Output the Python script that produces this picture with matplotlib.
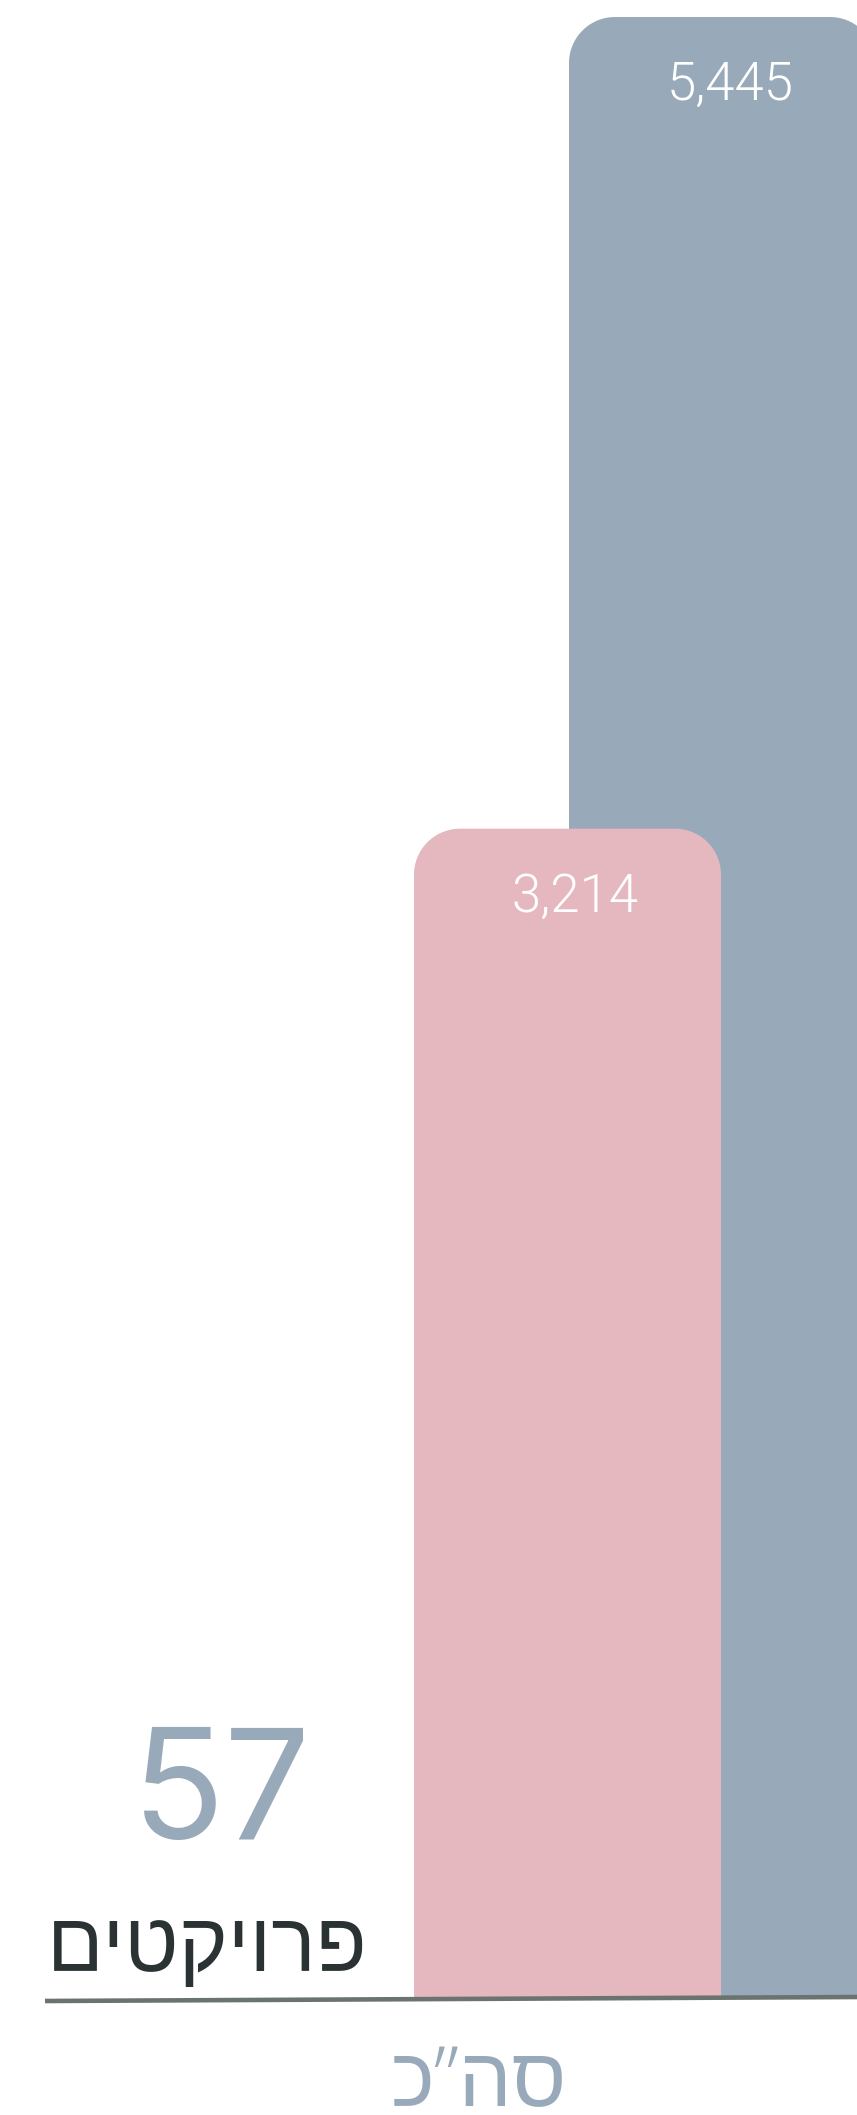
import matplotlib
matplotlib.use("Agg")
import numpy as np
import matplotlib.pyplot as plt
from matplotlib.patches import PathPatch
from matplotlib.path import Path
from matplotlib.lines import Line2D

# data
values = [3214, 5445]              # front (pink) bar, back (blue) bar
value_labels = ["3,214", "5,445"]
bar_colors = ["#e5b8bf", "#98a9b9"]
projects_count = "57"
projects_label = "פרויקטים"
total_label = 'סה"כ'

W, H = 857, 2115
BLUE = "#98a9b9"
DARK = "#2a3233"
LINE = "#6b7371"
HEB_FONT = ["Open Sans", "Liberation Sans", "DejaVu Sans"]


def heb(s):
    """matplotlib has no bidi, flip hebrew so it reads right to left"""
    return s[::-1].replace('"', "\u201d")


def fx(px):
    return px / W


def fy(py):
    return 1 - py / H


def top_rounded_bar(x, w, h, rx, ry, bottom):
    """bar path with round top corners (elliptic in data units = circular on screen)"""
    t = np.linspace(0, np.pi / 2, 20)
    left, right = x - w / 2, x + w / 2
    pts = [(left, bottom), (left, h - ry)]
    # top-left corner
    pts += list(zip(left + rx - rx * np.cos(t), h - ry + ry * np.sin(t)))
    # top-right corner
    pts += list(zip(right - rx + rx * np.sin(t), h - ry + ry * np.cos(t)))
    pts += [(right, bottom), (left, bottom)]
    return Path(pts, closed=True)


fig = plt.figure(figsize=(W / 100, H / 100), dpi=100)
fig.patch.set_facecolor("white")

# axes: bottom at the base line, top at the tallest bar
base_px, top_px = 1998, 17
ax = fig.add_axes([0, fy(base_px), 1, (base_px - top_px) / H])
ax.set_ylim(0, max(values))
unit_px = 155.0       # distance between the two bar centres
x0_px = 567.5         # centre of the first bar
ax.set_xlim(-x0_px / unit_px, (W - x0_px) / unit_px)
ax.axis("off")

bar_w = 307 / unit_px
r_px = 46
x_per_px = 1 / unit_px
y_per_px = max(values) / (base_px - top_px)

# draw back bar first so the front one covers it
for i in [1, 0]:
    v = values[i]
    path = top_rounded_bar(i, bar_w, v, r_px * x_per_px, r_px * y_per_px, 0)
    ax.add_patch(PathPatch(path, fc=bar_colors[i], ec="none"))
    ax.annotate(value_labels[i], (i, v), xytext=(8, -68), textcoords="offset pixels",
                ha="center", va="center", color="white", fontsize=38,
                family=["Roboto", "DejaVu Sans"], fontweight=300)

# base line (slightly tilted as in the original)
fig.add_artist(Line2D([fx(45), fx(857)], [fy(2001), fy(1997)], color=LINE,
                      lw=3.3, solid_capstyle="butt"))

fig.text(fx(221), fy(1839), projects_count, ha="center", va="baseline",
         color=BLUE, fontsize=110, family=["Inter", "DejaVu Sans"])
fig.text(fx(207), fy(1971), heb(projects_label), ha="center", va="baseline",
         color=DARK, fontsize=60, family=HEB_FONT, fontweight="light")
fig.text(fx(479), fy(2106), heb(total_label), ha="center", va="baseline",
         color=BLUE, fontsize=60, family=HEB_FONT, fontweight="light")

fig.savefig("out.png", dpi=100, facecolor="white")
